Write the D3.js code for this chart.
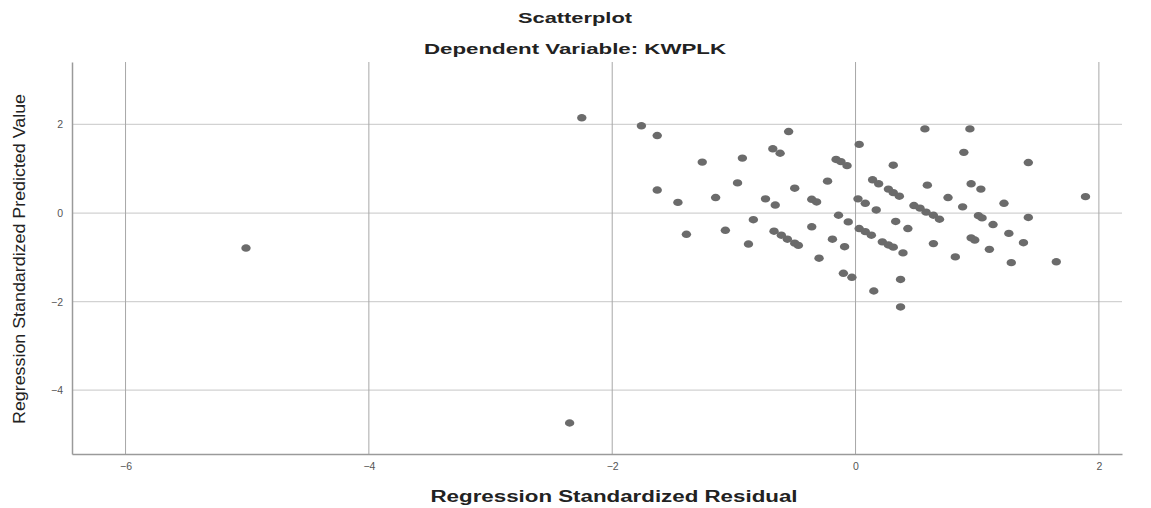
<!DOCTYPE html>
<html><head><meta charset="utf-8">
<script src="https://cdn.jsdelivr.net/npm/d3@7"></script>
<style>body{margin:0;background:#fff}svg{display:block}</style>
</head><body>
<svg id="c" width="1151" height="508"></svg>
<script>
const chartTitle = "Scatterplot";
const chartSubtitle = "Dependent Variable: KWPLK";
const xLabel = "Regression Standardized Residual";
const yLabel = "Regression Standardized Predicted Value";
const xTicks = [-6, -4, -2, 0, 2];
const yTicks = [-4, -2, 0, 2];
// standardized residuals (x) and standardized predicted values (y)
const residuals = [
 -2.25,-1.76,-1.63,-1.26,-0.93,-0.55,-0.68,-0.62,-0.16,-0.12,-0.07,-0.23,-0.97,-0.50,-1.63,-1.46,-1.15,-0.74,-0.66,-0.36,-0.32,
 -0.14,-0.06,-0.84,-1.39,-1.07,-0.88,-0.67,-0.61,-0.56,-0.50,-0.47,-0.36,-0.19,-0.09,-0.30,-0.10,-0.03,
 0.03,0.57,0.94,0.89,1.42,0.31,0.14,0.19,0.27,0.31,0.36,0.59,0.95,1.03,1.89,0.02,0.08,0.17,0.48,0.53,0.58,0.64,0.69,
 0.76,0.88,1.22,1.01,1.04,1.42,0.33,0.43,1.13,0.03,0.08,0.13,1.26,0.22,0.27,0.31,0.39,0.64,0.95,0.98,1.38,1.10,0.82,1.28,1.65,
 0.15,0.37,0.37,-5.01,-2.35
];
const predicted = [
 2.15,1.97,1.75,1.15,1.24,1.84,1.45,1.35,1.21,1.16,1.07,0.72,0.68,0.56,0.52,0.24,0.35,0.32,0.18,0.31,0.25,
 -0.05,-0.20,-0.15,-0.48,-0.39,-0.70,-0.41,-0.50,-0.59,-0.68,-0.73,-0.31,-0.59,-0.76,-1.02,-1.36,-1.45,
 1.55,1.90,1.90,1.37,1.14,1.08,0.75,0.66,0.54,0.46,0.38,0.63,0.66,0.54,0.37,0.32,0.22,0.07,0.17,0.11,0.02,-0.05,-0.14,
 0.35,0.14,0.22,-0.06,-0.11,-0.10,-0.19,-0.35,-0.26,-0.35,-0.42,-0.50,-0.46,-0.65,-0.72,-0.77,-0.90,-0.69,-0.56,-0.61,-0.67,-0.82,-0.99,-1.12,-1.10,
 -1.76,-1.50,-2.12,-0.79,-4.74
];

const svg = d3.select("#c");
const L = 72, R = 1122, T = 62, B = 454;
const x = d3.scaleLinear().domain([-6.44, 2.19]).range([L, R]);
const y = d3.scaleLinear().domain([-5.44, 3.41]).range([B, T]);

// gridlines
svg.append("g").selectAll("line").data(yTicks).join("line")
  .attr("x1", L).attr("x2", R).attr("y1", d => y(d)).attr("y2", d => y(d))
  .attr("stroke", "#d2d2d2").attr("stroke-width", 1.2);
svg.append("g").selectAll("line").data(xTicks).join("line")
  .attr("x1", d => x(d)).attr("x2", d => x(d)).attr("y1", T).attr("y2", B)
  .attr("stroke", "#a8a8a8").attr("stroke-width", 1);

// axes
const xAxis = svg.append("g").attr("transform", `translate(0,${B})`)
  .call(d3.axisBottom(x).tickValues(xTicks).tickSize(0).tickPadding(9));
const yAxis = svg.append("g").attr("transform", `translate(${L},0)`)
  .call(d3.axisLeft(y).tickValues(yTicks).tickSize(0).tickPadding(9));
[xAxis, yAxis].forEach(a => {
  a.select(".domain").attr("stroke", "#9a9a9a").attr("stroke-width", 1.5);
  a.selectAll("text").attr("font-family", "Liberation Sans, Arial, sans-serif")
   .attr("font-size", 10.5).attr("fill", "#555");
});

// points
svg.append("g").selectAll("ellipse").data(residuals.map((r, i) => [r, predicted[i]])).join("ellipse")
  .attr("cx", d => x(d[0])).attr("cy", d => y(d[1]))
  .attr("rx", 4.7).attr("ry", 3.7).attr("fill", "#6b6b6b");

// titles
const bold = "Liberation Sans, Arial, sans-serif";
svg.append("text").attr("x", 575).attr("y", 23).attr("text-anchor", "middle")
  .attr("font-family", bold).attr("font-weight", "bold").attr("font-size", 15).attr("fill", "#222")
  .attr("textLength", 114).attr("lengthAdjust", "spacingAndGlyphs").text(chartTitle);
svg.append("text").attr("x", 575).attr("y", 54).attr("text-anchor", "middle")
  .attr("font-family", bold).attr("font-weight", "bold").attr("font-size", 15).attr("fill", "#222")
  .attr("textLength", 302).attr("lengthAdjust", "spacingAndGlyphs").text(chartSubtitle);
svg.append("text").attr("x", 614).attr("y", 502).attr("text-anchor", "middle")
  .attr("font-family", bold).attr("font-weight", "bold").attr("font-size", 16).attr("fill", "#222")
  .attr("textLength", 367).attr("lengthAdjust", "spacingAndGlyphs").text(xLabel);
svg.append("text").attr("transform", "translate(25,259) rotate(-90)").attr("text-anchor", "middle")
  .attr("font-family", "Liberation Sans Narrow, Arial Narrow, sans-serif").attr("font-size", 17).attr("fill", "#222")
  .attr("textLength", 330).attr("lengthAdjust", "spacingAndGlyphs").text(yLabel);
</script>
</body></html>
